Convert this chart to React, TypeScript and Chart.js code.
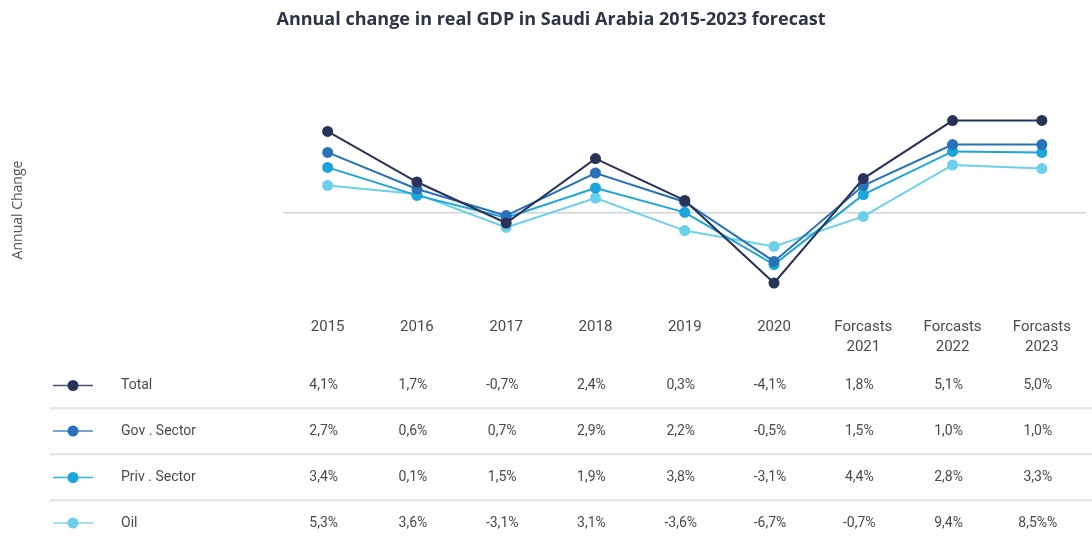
import React, { useEffect, useRef } from "react";
import { Chart, registerables } from "chart.js";

Chart.register(...registerables);

const categories: (string | string[])[] = [
  "2015", "2016", "2017", "2018", "2019", "2020",
  ["Forcasts", "2021"], ["Forcasts", "2022"], ["Forcasts", "2023"],
];

const seriesNames = ["Total", "Gov . Sector", "Priv . Sector", "Oil"];
const seriesColors = ["#283357", "#2872b9", "#1aa5db", "#6bd0ea"];

// plotted values
const totalLine = [4.08, 1.55, -0.5, 2.72, 0.63, -3.5, 1.72, 4.62, 4.63];
const govLine = [3.03, 1.2, -0.13, 2.0, 0.55, -2.42, 1.37, 3.42, 3.42];
const privLine = [2.28, 0.88, -0.23, 1.25, 0.03, -2.58, 0.92, 3.08, 3.03];
const oilLine = [1.38, 0.95, -0.72, 0.75, -0.88, -1.67, -0.17, 2.4, 2.22];

// table values
const totalTable = ["4,1%", "1,7%", "-0,7%", "2,4%", "0,3%", "-4,1%", "1,8%", "5,1%", "5,0%"];
const govTable = ["2,7%", "0,6%", "0,7%", "2,9%", "2,2%", "-0,5%", "1,5%", "1,0%", "1,0%"];
const privTable = ["3,4%", "0,1%", "1,5%", "1,9%", "3,8%", "-3,1%", "4,4%", "2,8%", "3,3%"];
const oilTable = ["5,3%", "3,6%", "-3,1%", "3,1%", "-3,6%", "-6,7%", "-0,7%", "9,4%", "8,5%%"];

const FONT = "Roboto, 'Noto Sans', sans-serif";
const TITLE_FONT = "'Open Sans', 'Noto Sans', sans-serif";

const tablePlugin = {
  id: "tablePlugin",
  afterDraw(chart: any) {
    const ctx = chart.ctx as CanvasRenderingContext2D;
    const x = chart.scales.x;
    const rows = [totalTable, govTable, privTable, oilTable];
    const rowY = [385.5, 431, 477.5, 523];
    ctx.save();
    ctx.strokeStyle = "#e2e2e2";
    ctx.lineWidth = 2;
    for (let i = 0; i < rows.length - 1; i++) {
      const y = (rowY[i] + rowY[i + 1]) / 2;
      ctx.beginPath();
      ctx.moveTo(50, y);
      ctx.lineTo(1092, y);
      ctx.stroke();
    }
    rows.forEach((row, i) => {
      const y = rowY[i];
      const color = seriesColors[i];
      ctx.strokeStyle = color;
      ctx.globalAlpha = 0.85;
      ctx.lineWidth = 1.3;
      ctx.beginPath();
      ctx.moveTo(53, y);
      ctx.lineTo(93, y);
      ctx.stroke();
      ctx.globalAlpha = 1;
      ctx.fillStyle = color;
      ctx.beginPath();
      ctx.arc(73, y, 5.5, 0, Math.PI * 2);
      ctx.fill();
      ctx.fillStyle = "#4a4a4a";
      ctx.font = `14px ${FONT}`;
      ctx.textBaseline = "middle";
      ctx.textAlign = "left";
      ctx.fillText(seriesNames[i], 121, y);
      ctx.textAlign = "center";
      row.forEach((v, j) => {
        ctx.fillText(v, x.getPixelForValue(j) - 4, y);
      });
    });
    ctx.restore();
  },
};

export default function App() {
  const ref = useRef<HTMLCanvasElement | null>(null);
  useEffect(() => {
    if (!ref.current) return;
    const lines = [totalLine, govLine, privLine, oilLine];
    const chart = new Chart(ref.current, {
      type: "line",
      data: {
        labels: categories as any,
        datasets: lines.map((d, i) => ({
          label: seriesNames[i],
          data: d,
          borderColor: seriesColors[i],
          backgroundColor: seriesColors[i],
          pointBackgroundColor: seriesColors[i],
          pointBorderWidth: 0,
          pointRadius: 5.5,
          borderWidth: 2,
          tension: 0,
          clip: false as any,
        })),
      },
      options: {
        animation: false,
        responsive: false,
        maintainAspectRatio: false,
        layout: { padding: { left: 10, right: 0, top: 0, bottom: 0 } },
        plugins: {
          legend: { display: false },
          tooltip: { enabled: false },
          title: {
            display: true,
            text: "Annual change in real GDP in Saudi Arabia 2015-2023 forecast",
            color: "#2d3446",
            font: { family: TITLE_FONT, size: 18, weight: "bold", lineHeight: 1.2 },
            padding: { top: 9, bottom: 86.4 },
          },
        },
        scales: {
          x: {
            offset: true,
            grid: { display: false, drawTicks: false },
            border: { display: false },
            ticks: {
              color: "#4a4a4a",
              padding: 14,
              maxRotation: 0,
              autoSkip: false,
              font: { family: FONT, size: 15, lineHeight: 20 / 15 },
            },
            afterFit: (s: any) => { s.height = 233; },
          },
          y: {
            min: -4.5,
            max: 4.8,
            border: { display: false },
            grid: { color: "#d4d4d4", lineWidth: 1.5, drawTicks: false },
            ticks: { display: false },
            afterBuildTicks: (s: any) => { s.ticks = [{ value: 0 }]; },
            afterFit: (s: any) => { s.width = 273; },
            title: {
              display: true,
              text: "Annual Change",
              color: "#555555",
              padding: 0,
              font: { family: TITLE_FONT, size: 14 },
            },
          },
        },
      },
      plugins: [tablePlugin],
    });
    return () => chart.destroy();
  }, []);
  return (
    <div style={{ position: "fixed", left: 0, top: 0, width: 1092, height: 536, background: "#fff" }}>
      <canvas ref={ref} width={1092} height={536} style={{ display: "block" }} />
    </div>
  );
}
